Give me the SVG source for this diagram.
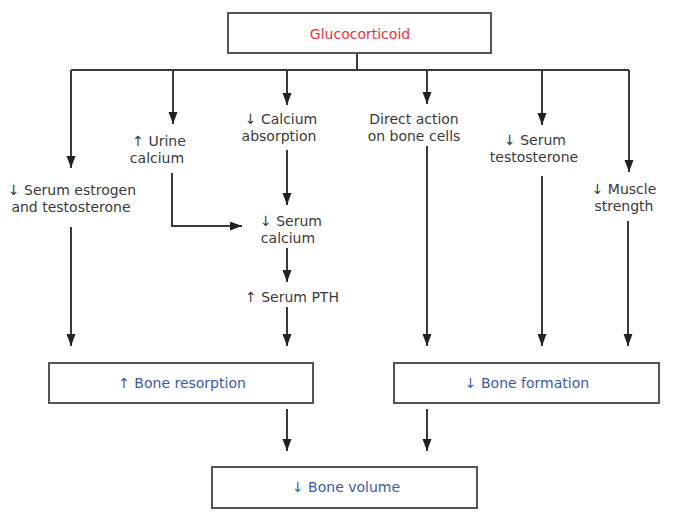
<svg xmlns="http://www.w3.org/2000/svg" width="691" height="520" viewBox="0 0 691 520">
<style>
.box{fill:#fff;stroke:#555;stroke-width:2}
.t{font-family:"DejaVu Sans",Verdana,sans-serif;font-size:14px;fill:#3a3a3a;text-anchor:middle}
.red{fill:#e8343a}
.blue{fill:#3d5aa8}
.c{fill:none;stroke:#3a3a3a;stroke-width:2}
</style>
<defs>
<marker id="ah" markerUnits="userSpaceOnUse" markerWidth="13" markerHeight="10" refX="12" refY="4.5" orient="auto">
<path d="M0,0 L12,4.5 L0,9 z" fill="#222"/>
</marker>
</defs>
<rect width="691" height="520" fill="#fff"/>
<g id="connectors">
<path class="c" d="M357,53 V70"/>
<path class="c" d="M71,70 H629"/>
<path class="c" d="M71,70 V168" marker-end="url(#ah)"/>
<path class="c" d="M173,70 V124" marker-end="url(#ah)"/>
<path class="c" d="M287,70 V105" marker-end="url(#ah)"/>
<path class="c" d="M427,70 V104" marker-end="url(#ah)"/>
<path class="c" d="M542,70 V125" marker-end="url(#ah)"/>
<path class="c" d="M629,70 V172" marker-end="url(#ah)"/>
<path class="c" d="M172,173 V226 H242" marker-end="url(#ah)"/>
<path class="c" d="M287,150 V205" marker-end="url(#ah)"/>
<path class="c" d="M287,248 V282" marker-end="url(#ah)"/>
<path class="c" d="M71,227 V346" marker-end="url(#ah)"/>
<path class="c" d="M287,307 V346" marker-end="url(#ah)"/>
<path class="c" d="M427,146 V346" marker-end="url(#ah)"/>
<path class="c" d="M542,176 V346" marker-end="url(#ah)"/>
<path class="c" d="M628,221 V346" marker-end="url(#ah)"/>
<path class="c" d="M287,409 V451" marker-end="url(#ah)"/>
<path class="c" d="M427,409 V451" marker-end="url(#ah)"/>
</g>
<g id="glucocorticoid">
<rect class="box" x="228" y="13" width="263" height="40"/>
<text class="t red" x="360" y="39">Glucocorticoid</text>
</g>
<g id="serum-estrogen">
<text class="t" x="72" y="195">↓ Serum estrogen</text>
<text class="t" x="71" y="212">and testosterone</text>
</g>
<g id="urine-calcium">
<text class="t" x="159" y="146">↑ Urine</text>
<text class="t" x="157" y="163">calcium</text>
</g>
<g id="calcium-absorption">
<text class="t" x="281" y="124">↓ Calcium</text>
<text class="t" x="279" y="141">absorption</text>
</g>
<g id="serum-calcium">
<text class="t" x="291" y="226">↓ Serum</text>
<text class="t" x="288" y="243">calcium</text>
</g>
<g id="serum-pth">
<text class="t" x="292" y="302">↑ Serum PTH</text>
</g>
<g id="direct-action">
<text class="t" x="414" y="124">Direct action</text>
<text class="t" x="414" y="141">on bone cells</text>
</g>
<g id="serum-testosterone">
<text class="t" x="535" y="145">↓ Serum</text>
<text class="t" x="534" y="162">testosterone</text>
</g>
<g id="muscle-strength">
<text class="t" x="624" y="194">↓ Muscle</text>
<text class="t" x="624" y="211">strength</text>
</g>
<g id="bone-resorption">
<rect class="box" x="49" y="363" width="264" height="40"/>
<text class="t blue" x="182" y="388">↑ Bone resorption</text>
</g>
<g id="bone-formation">
<rect class="box" x="394" y="363" width="265" height="40"/>
<text class="t blue" x="527" y="388">↓ Bone formation</text>
</g>
<g id="bone-volume">
<rect class="box" x="212" y="467" width="265" height="41"/>
<text class="t blue" x="346" y="492">↓ Bone volume</text>
</g>
</svg>
